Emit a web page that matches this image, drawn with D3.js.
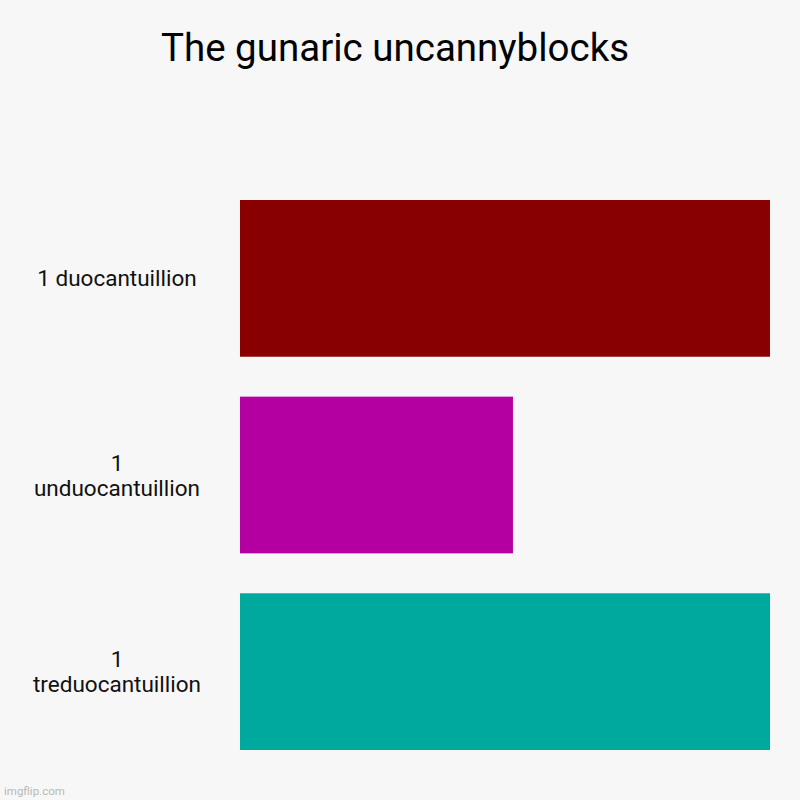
<!DOCTYPE html>
<html>
<head>
<meta charset="utf-8">
<script src="https://cdn.jsdelivr.net/npm/d3@7"></script>
<style>
  html, body { margin: 0; padding: 0; background: #f7f7f7; }
  svg { display: block; font-family: Roboto, "Open Sans", sans-serif; }
</style>
</head>
<body>
<div id="chart"></div>
<script>
// Chart data
const title = 'The gunaric uncannyblocks';
const labels = [
    ['1 duocantuillion'],
    ['1', 'unduocantuillion'],
    ['1', 'treduocantuillion']
];
const values = [1, 0.515, 1];
const colors = ['#880000', '#b500a1', '#00a99d'];

const width = 800;
const height = 800;

const svg = d3.select('#chart')
    .append('svg')
    .attr('width', width)
    .attr('height', height);

svg.append('rect')
    .attr('width', width)
    .attr('height', height)
    .attr('fill', '#f7f7f7');

// Title
svg.append('text')
    .attr('x', 395)
    .attr('y', 61)
    .attr('text-anchor', 'middle')
    .attr('font-size', 38.5)
    .attr('fill', '#000')
    .text(title);

// Scales
const y = d3.scaleBand()
    .domain(d3.range(values.length))
    .range([200, 750])
    .paddingInner(0.203)
    .paddingOuter(0);

const x = d3.scaleLinear()
    .domain([0, d3.max(values)])
    .range([240, 770]);

// Bars
svg.selectAll('.bar')
    .data(values)
    .enter()
    .append('rect')
    .attr('class', 'bar')
    .attr('x', x(0))
    .attr('y', (d, i) => y(i))
    .attr('width', d => x(d) - x(0))
    .attr('height', y.bandwidth())
    .attr('fill', (d, i) => colors[i]);

// Category labels
const lineHeight = 25;
const lbl = svg.selectAll('.label')
    .data(labels)
    .enter()
    .append('text')
    .attr('class', 'label')
    .attr('text-anchor', 'middle')
    .attr('font-size', 22.5)
    .attr('fill', '#111');

lbl.each(function(lines, i) {
    const cy = y(i) + y.bandwidth() / 2;
    const startY = cy - (lines.length - 1) * lineHeight / 2 + 8;
    d3.select(this).selectAll('tspan')
        .data(lines)
        .enter()
        .append('tspan')
        .attr('x', 117)
        .attr('y', (l, j) => startY + j * lineHeight)
        .text(l => l);
});

// Watermark
svg.append('text')
    .attr('x', 4)
    .attr('y', 795)
    .attr('font-size', 11.5)
    .attr('fill', '#b8b8b8')
    .text('imgflip.com');
</script>
</body>
</html>
